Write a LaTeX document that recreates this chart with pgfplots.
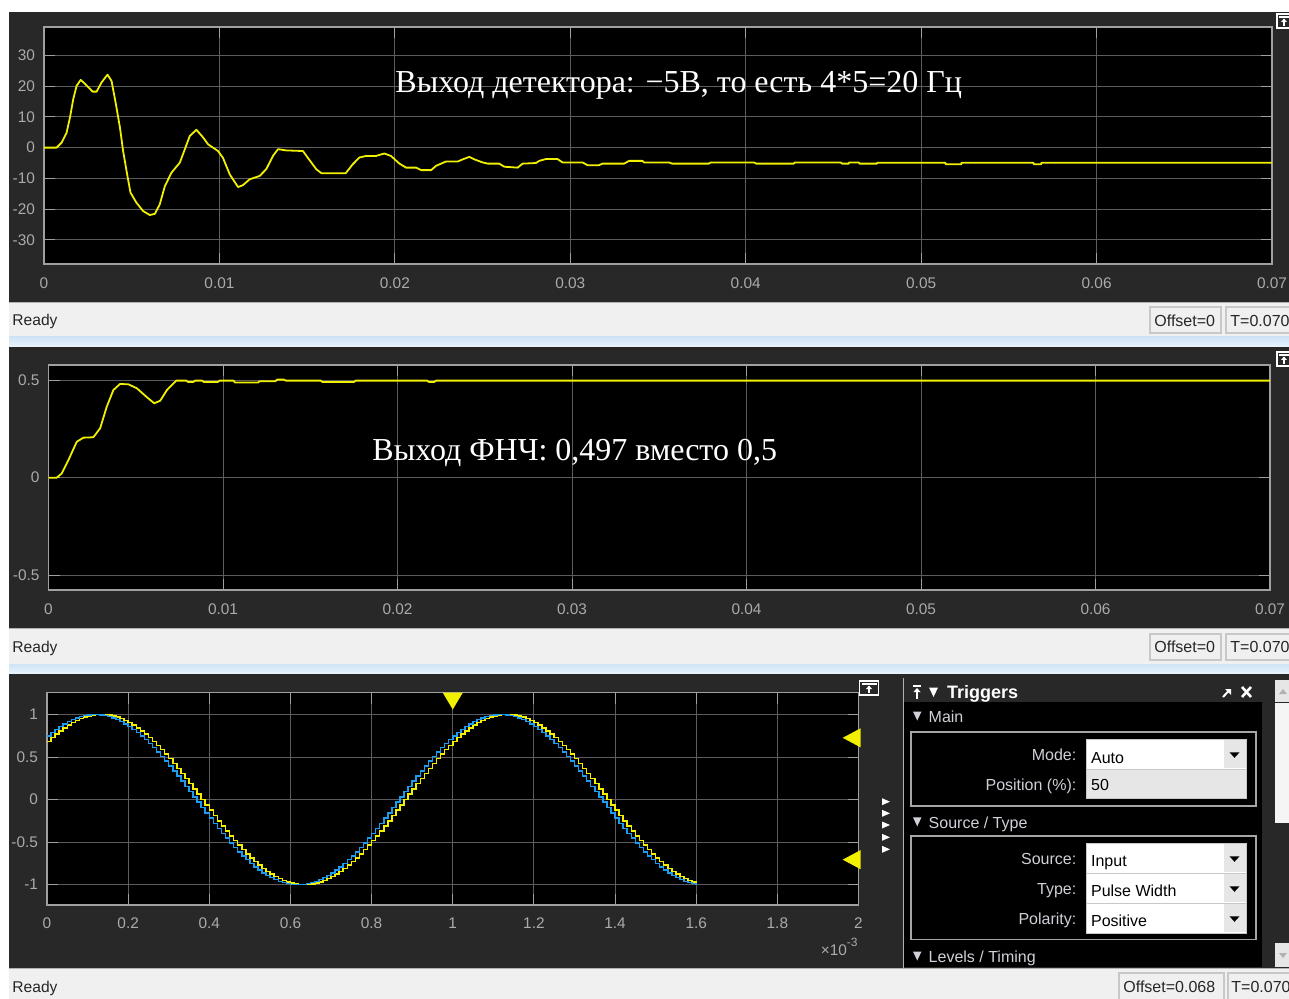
\documentclass[border=0pt]{standalone}
\usepackage{pgfplots}
\pgfplotsset{compat=1.18}
\usepackage{pgfplotstable}
\usepackage{fontspec}
\setmainfont{Liberation Sans}
\newfontfamily\serif{Liberation Serif}
\definecolor{panelbg}{HTML}{282828}
\definecolor{axborder}{HTML}{A0A0A0}
\definecolor{gridc}{HTML}{5C5C5C}
\definecolor{tickc}{HTML}{A0A0A0}
\definecolor{labc}{HTML}{ABABAB}
\definecolor{scopeyel}{HTML}{F0F000}
\definecolor{scopeblue}{HTML}{1E9BEF}
\definecolor{barbg}{HTML}{F0F0F0}
\definecolor{boxborder}{HTML}{C8C8C8}
\definecolor{sepA}{HTML}{CFE4F6}
\definecolor{sepB}{HTML}{EAF4FC}
\definecolor{trigtxt}{HTML}{D0D0D8}
\definecolor{btngray}{HTML}{E6E6E6}

\pgfplotstableread{
x y b
0.00 0.685 0.750
0.01 0.729 0.790
0.02 0.771 0.827
0.03 0.809 0.861
0.04 0.844 0.891
0.05 0.876 0.918
0.06 0.905 0.941
0.07 0.930 0.960
0.08 0.951 0.976
0.09 0.969 0.988
0.10 0.982 0.996
0.11 0.992 1.000
0.12 0.998 1.000
0.13 1.000 0.996
0.14 0.998 0.988
0.15 0.992 0.976
0.16 0.982 0.960
0.17 0.969 0.941
0.18 0.951 0.918
0.19 0.930 0.891
0.20 0.905 0.861
0.21 0.876 0.827
0.22 0.844 0.790
0.23 0.809 0.750
0.24 0.771 0.707
0.25 0.729 0.661
0.26 0.685 0.613
0.27 0.637 0.562
0.28 0.588 0.509
0.29 0.536 0.454
0.30 0.482 0.397
0.31 0.426 0.339
0.32 0.368 0.279
0.33 0.309 0.218
0.34 0.249 0.156
0.35 0.187 0.094
0.36 0.125 0.031
0.37 0.063 -0.031
0.38 0.000 -0.094
0.39 -0.063 -0.156
0.40 -0.125 -0.218
0.41 -0.187 -0.279
0.42 -0.249 -0.339
0.43 -0.309 -0.397
0.44 -0.368 -0.454
0.45 -0.426 -0.509
0.46 -0.482 -0.562
0.47 -0.536 -0.613
0.48 -0.588 -0.661
0.49 -0.637 -0.707
0.50 -0.685 -0.750
0.51 -0.729 -0.790
0.52 -0.771 -0.827
0.53 -0.809 -0.861
0.54 -0.844 -0.891
0.55 -0.876 -0.918
0.56 -0.905 -0.941
0.57 -0.930 -0.960
0.58 -0.951 -0.976
0.59 -0.969 -0.988
0.60 -0.982 -0.996
0.61 -0.992 -1.000
0.62 -0.998 -1.000
0.63 -1.000 -0.996
0.64 -0.998 -0.988
0.65 -0.992 -0.976
0.66 -0.982 -0.960
0.67 -0.969 -0.941
0.68 -0.951 -0.918
0.69 -0.930 -0.891
0.70 -0.905 -0.861
0.71 -0.876 -0.827
0.72 -0.844 -0.790
0.73 -0.809 -0.750
0.74 -0.771 -0.707
0.75 -0.729 -0.661
0.76 -0.685 -0.613
0.77 -0.637 -0.562
0.78 -0.588 -0.509
0.79 -0.536 -0.454
0.80 -0.482 -0.397
0.81 -0.426 -0.339
0.82 -0.368 -0.279
0.83 -0.309 -0.218
0.84 -0.249 -0.156
0.85 -0.187 -0.094
0.86 -0.125 -0.031
0.87 -0.063 0.031
0.88 0.000 0.094
0.89 0.063 0.156
0.90 0.125 0.218
0.91 0.187 0.279
0.92 0.249 0.339
0.93 0.309 0.397
0.94 0.368 0.454
0.95 0.426 0.509
0.96 0.482 0.562
0.97 0.536 0.613
0.98 0.588 0.661
0.99 0.637 0.707
1.00 0.685 0.750
1.01 0.729 0.790
1.02 0.771 0.827
1.03 0.809 0.861
1.04 0.844 0.891
1.05 0.876 0.918
1.06 0.905 0.941
1.07 0.930 0.960
1.08 0.951 0.976
1.09 0.969 0.988
1.10 0.982 0.996
1.11 0.992 1.000
1.12 0.998 1.000
1.13 1.000 0.996
1.14 0.998 0.988
1.15 0.992 0.976
1.16 0.982 0.960
1.17 0.969 0.941
1.18 0.951 0.918
1.19 0.930 0.891
1.20 0.905 0.861
1.21 0.876 0.827
1.22 0.844 0.790
1.23 0.809 0.750
1.24 0.771 0.707
1.25 0.729 0.661
1.26 0.685 0.613
1.27 0.637 0.562
1.28 0.588 0.509
1.29 0.536 0.454
1.30 0.482 0.397
1.31 0.426 0.339
1.32 0.368 0.279
1.33 0.309 0.218
1.34 0.249 0.156
1.35 0.187 0.094
1.36 0.125 0.031
1.37 0.063 -0.031
1.38 0.000 -0.094
1.39 -0.063 -0.156
1.40 -0.125 -0.218
1.41 -0.187 -0.279
1.42 -0.249 -0.339
1.43 -0.309 -0.397
1.44 -0.368 -0.454
1.45 -0.426 -0.509
1.46 -0.482 -0.562
1.47 -0.536 -0.613
1.48 -0.588 -0.661
1.49 -0.637 -0.707
1.50 -0.685 -0.750
1.51 -0.729 -0.790
1.52 -0.771 -0.827
1.53 -0.809 -0.861
1.54 -0.844 -0.891
1.55 -0.876 -0.918
1.56 -0.905 -0.941
1.57 -0.930 -0.960
1.58 -0.951 -0.976
1.59 -0.969 -0.988
1.60 -0.982 -0.996
}\sinedata

\pgfplotsset{
  scopeax/.style={
    scale only axis,
    axis background/.style={fill=black},
    axis line style={draw=axborder, line width=0.6pt},
    grid=major,
    major grid style={draw=gridc, line width=0.5pt},
    tick align=inside,
    major tick length=5.5pt,
    tick style={draw=tickc, line width=0.5pt},
    tick label style={font=\fontsize{7.7}{9}\selectfont, text=labc},
    xticklabel style={anchor=center, yshift=-9.5pt},
    yticklabel style={anchor=east, inner sep=0pt, xshift=-4.3pt},
    scaled ticks=false,
  }
}

\begin{document}
\begin{tikzpicture}
\begin{scope}[x=0.5pt,y=-0.5pt]
\fill[white] (0,0) rectangle (1289,999);
\fill[panelbg] (9,12) rectangle (1289,302);
\fill[barbg] (9,302) rectangle (1289,337);
\shade[top color=sepA, bottom color=sepB] (9,337) rectangle (1289,347);
\fill[panelbg] (9,347) rectangle (1289,628);
\fill[barbg] (9,628) rectangle (1289,664);
\shade[top color=sepA, bottom color=sepB] (9,664) rectangle (1289,674);
\fill[panelbg] (9,674) rectangle (1289,968);
\fill[barbg] (9,968) rectangle (1289,999);
\end{scope}

% ---------- panel 1
\begin{axis}[scopeax, at={(22pt,-13.5pt)}, anchor=north west,
  width=614pt, height=118.5pt,
  xmin=0, xmax=0.07, ymin=-37.8, ymax=39.2,
  xtick={0,0.01,0.02,0.03,0.04,0.05,0.06,0.07},
  xticklabels={0,0.01,0.02,0.03,0.04,0.05,0.06,0.07},
  ytick={-30,-20,-10,0,10,20,30},
  yticklabels={-30,-20,-10,0,10,20,30}]
\addplot[scopeyel, line width=0.9pt, line join=round] coordinates {
(0,0) (0.00072,0) (0.001,1.6) (0.00129,4.9) (0.00148,9.8) (0.00167,15.8) (0.00186,20.1)
(0.00209,22) (0.00233,20.8) (0.00277,18.2) (0.003,18.2) (0.00328,21.2) (0.00362,23.7)
(0.00385,21.7) (0.0041,14.1) (0.00433,6.5) (0.00451,-1.1) (0.00474,-8.7) (0.00493,-14.6)
(0.00527,-17.9) (0.00565,-20.6) (0.00603,-21.9) (0.00632,-21.5) (0.0066,-18.4)
(0.00689,-12.5) (0.00727,-8.1) (0.00774,-4.9) (0.00803,-0.5) (0.00831,3.8) (0.00869,5.8)
(0.00907,3.3) (0.00935,1.1) (0.00992,-1.1) (0.0102,-3.3) (0.01059,-8.7) (0.01106,-12.8)
(0.01134,-12.2) (0.01172,-10.3) (0.01229,-9.2) (0.01267,-7) (0.01305,-2.7) (0.01334,-0.5)
(0.01381,-0.9) (0.01476,-1.1) (0.01504,-3.3) (0.01552,-7) (0.01581,-8.3) (0.0172,-8.3)
(0.0176,-5.4) (0.01798,-3.2) (0.01836,-2.7) (0.01893,-2.7) (0.0194,-1.9)
(0.01978,-2.7) (0.02026,-5.2) (0.02064,-6.5) (0.02121,-6.5) (0.0215,-7.3) (0.02207,-7.3)
(0.02235,-5.9) (0.02292,-4.5) (0.02359,-4.5) (0.02387,-3.8) (0.02425,-3) (0.02453,-3.8)
(0.025,-4.8) (0.0253,-5.2) (0.02595,-5.2) (0.02624,-6.2) (0.027,-6.5) (0.02728,-5.2)
(0.02804,-5) (0.02823,-4.3) (0.02861,-3.7) (0.02927,-3.7) (0.02956,-4.8) (0.0307,-4.8)
(0.03098,-5.7) (0.03164,-5.7) (0.03183,-5.2) (0.03307,-5.2) (0.03335,-4.3) (0.03411,-4.3)
(0.0342,-4.8) (0.03563,-4.8) (0.0358,-5.2) (0.0379,-5.2) (0.038,-4.8) (0.04047,-4.8)
(0.0406,-5.2) (0.04274,-5.2) (0.0428,-4.8) (0.0454,-4.8) (0.0455,-5.2) (0.04587,-5.2)
(0.0459,-4.8) (0.04644,-4.8) (0.0465,-5.2) (0.04748,-5.2) (0.0475,-4.9) (0.05138,-4.9)
(0.0514,-5.4) (0.05229,-5.4) (0.0523,-4.9) (0.0564,-4.9) (0.05642,-5.4) (0.05684,-5.4)
(0.05686,-4.9) (0.07,-4.9)};
\end{axis}

% ---------- panel 2
\begin{axis}[scopeax, at={(24.25pt,-182.5pt)}, anchor=north west,
  width=610.75pt, height=112.5pt,
  xmin=0, xmax=0.07, ymin=-0.575, ymax=0.577,
  xtick={0,0.01,0.02,0.03,0.04,0.05,0.06,0.07},
  xticklabels={0,0.01,0.02,0.03,0.04,0.05,0.06,0.07},
  ytick={-0.5,0,0.5},
  yticklabels={-0.5,0,0.5}]
\addplot[scopeyel, line width=0.9pt, line join=round] coordinates {
(0,0) (0.00047,0) (0.00076,0.022) (0.00114,0.09) (0.00162,0.184) (0.002,0.205)
(0.00257,0.207) (0.00296,0.253) (0.00334,0.364) (0.00372,0.449) (0.0041,0.48)
(0.00458,0.478) (0.00506,0.458) (0.00564,0.412) (0.00606,0.381) (0.0064,0.394)
(0.00679,0.449) (0.00732,0.497) (0.0079,0.497) (0.008,0.49) (0.0083,0.49) (0.0084,0.497)
(0.0088,0.497) (0.0089,0.49) (0.0097,0.49) (0.0098,0.497) (0.0106,0.497) (0.0107,0.487)
(0.012,0.487) (0.0121,0.494) (0.013,0.494) (0.0131,0.502) (0.0135,0.502) (0.0136,0.497)
(0.0156,0.497) (0.0157,0.49) (0.0175,0.49) (0.0176,0.497) (0.0217,0.497) (0.0218,0.49)
(0.0221,0.49) (0.0222,0.497) (0.07,0.497)};
\end{axis}

% ---------- panel 3
\begin{axis}[scopeax, at={(23.5pt,-346.25pt)}, anchor=north west,
  width=405.75pt, height=106.25pt,
  xmin=0, xmax=2, ymin=-1.239, ymax=1.259, clip=false,
  xtick={0,0.2,0.4,0.6,0.8,1,1.2,1.4,1.6,1.8,2},
  xticklabels={0,0.2,0.4,0.6,0.8,1,1.2,1.4,1.6,1.8,2},
  xticklabel style={yshift=0.5pt},
  ytick={-1,-0.5,0,0.5,1},
  yticklabels={-1,-0.5,0,0.5,1}]
\addplot[const plot, scopeyel, line width=0.75pt] table[x=x, y=y] {\sinedata};
\addplot[const plot, scopeblue, line width=0.75pt] table[x=x, y=b] {\sinedata};
\fill[scopeyel] (axis cs:0.975,1.259) -- (axis cs:1.025,1.259) -- (axis cs:1,1.059) -- cycle;
\fill[scopeyel] (axis cs:1.961,0.726) -- (axis cs:2.005,0.838) -- (axis cs:2.005,0.614) -- cycle;
\fill[scopeyel] (axis cs:1.961,-0.706) -- (axis cs:2.005,-0.594) -- (axis cs:2.005,-0.818) -- cycle;
\end{axis}

\begin{scope}[x=0.5pt,y=-0.5pt]
% overlay texts
\node[anchor=base west, inner sep=0, text=white, font=\serif\fontsize{16}{18}\selectfont] at (395,92.7) {Выход детектора: −5В, то есть 4*5=20 Гц};
\node[anchor=base west, inner sep=0, text=white, font=\serif\fontsize{16}{18}\selectfont] at (372,460.7) {Выход ФНЧ: 0,497 вместо 0,5};
% x10^-3
\node[anchor=base east, inner sep=0, text=labc, font=\fontsize{7.7}{9}\selectfont] at (858,955) {×10\raisebox{4.5pt}{\fontsize{6}{7}\selectfont -3}};
% panel icons
\foreach \ix/\iy/\iw in {1277/14/14, 1277/352/14, 859.5/681/19}{
  \draw[white, line width=0.6pt] (\ix,\iy) rectangle ++(\iw,14);
  \draw[white, line width=0.6pt] (\ix+2,\iy+3) -- ++(\iw-4,0);
  \draw[white, line width=0.6pt] (\ix+\iw/2,\iy+12) -- ++(0,-7);
  \fill[white] (\ix+\iw/2-3,\iy+8) -- (\ix+\iw/2+3,\iy+8) -- (\ix+\iw/2,\iy+4.5) -- cycle;
}
% little triangles column
\foreach \ty in {801.7,813.3,825,837.3,849.3}{
  \fill[white] (882,\ty-3.5) -- (890,\ty) -- (882,\ty+3.5) -- cycle;
}
% status bars
\draw[boxborder!70!gray] (9,302.5) -- (1289,302.5);
\draw[boxborder!70!gray] (9,628.5) -- (1289,628.5);
\draw[boxborder!70!gray] (9,968.5) -- (1289,968.5);
\foreach \by in {326, 652, 992.5}{
  \node[anchor=base west, inner sep=0, font=\fontsize{7.8}{9}\selectfont, text=black!85] at (12,\by) {Ready};
}
\foreach \by/\bt in {307.3/326.5, 633.5/652.5}{
  \draw[boxborder, line width=1pt] (1149.5,\by) rectangle (1221,\by+26);
  \draw[boxborder, line width=1pt] (1226,\by) rectangle (1296,\by+26);
  \node[anchor=base west, inner sep=0, font=\fontsize{8}{9}\selectfont, text=black!85] at (1154,\bt) {Offset=0};
  \node[anchor=base west, inner sep=0, font=\fontsize{8}{9}\selectfont, text=black!85] at (1230,\bt) {T=0.070};
}
\draw[boxborder, line width=1pt] (1118.5,973) rectangle (1223.5,1002);
\draw[boxborder, line width=1pt] (1227.5,973) rectangle (1296,1002);
\node[anchor=base west, inner sep=0, font=\fontsize{8}{9}\selectfont, text=black!85] at (1123,992.5) {Offset=0.068};
\node[anchor=base west, inner sep=0, font=\fontsize{8}{9}\selectfont, text=black!85] at (1231,992.5) {T=0.070};

% triggers panel
\draw[gray!60, line width=0.8pt] (903.5,678) -- (903.5,968);
\fill[black] (904,702) rectangle (1262,967);
% header icons
\draw[white, line width=0.8pt] (913,686) -- (921,686);
\draw[white, line width=0.8pt] (917,688.5) -- (917,699);
\fill[white] (913.5,692) -- (920.5,692) -- (917,688) -- cycle;
\fill[white] (929,687.5) -- (938,687.5) -- (933.5,697) -- cycle;
\node[anchor=base west, inner sep=0, text=white, font=\bfseries\fontsize{9}{10}\selectfont] at (946.7,698.5) {Triggers};
\draw[white, line width=1pt] (1223,697) -- (1229.5,690);
\fill[white] (1225,689) -- (1231,689) -- (1231,695) -- cycle;
\draw[white, line width=1.3pt] (1242,687) -- (1251,697) (1242,697) -- (1251,687);
% section headers
\foreach \sy/\st in {722.5/Main, 828.3/{Source / Type}, 962.5/{Levels / Timing}}{
  \fill[trigtxt] (913,\sy-11) -- (921.5,\sy-11) -- (917.25,\sy-2) -- cycle;
  \node[anchor=base west, inner sep=0, text=trigtxt, font=\fontsize{8}{9}\selectfont] at (928.3,\sy) {\st};
}
\draw[gray!70, line width=0.8pt] (911,731.7) rectangle (1255.7,806);
\draw[gray!70, line width=0.8pt] (911,835.7) rectangle (1255.7,939.3);
% dropdowns
\fill[white] (1086.7,739.3) rectangle (1246.7,769.3);
\fill[btngray] (1086.7,769.3) rectangle (1246.7,798.5);
\foreach \dy in {843.3, 873.3, 903.3}{
  \fill[white] (1086.7,\dy) rectangle (1246.7,\dy+30);
}
\foreach \dy in {739.3, 843.3, 873.3, 903.3}{
  \fill[btngray] (1223.5,\dy+1) rectangle (1246,\dy+29);
  \fill[black] (1229.5,\dy+13) -- (1239.5,\dy+13) -- (1234.5,\dy+18.5) -- cycle;
}
\draw[boxborder, line width=0.6pt] (1086.7,739.3) rectangle (1246.7,798.5);
\draw[boxborder, line width=0.6pt] (1086.7,769.3) -- (1246.7,769.3);
\draw[boxborder, line width=0.6pt] (1086.7,843.3) rectangle (1246.7,933.3);
\draw[boxborder, line width=0.6pt] (1086.7,873.3) -- (1246.7,873.3) (1086.7,903.3) -- (1246.7,903.3);
% labels
\foreach \ly/\lt in {760.5/Mode:, 790/{Position (\%):}, 864.5/Source:, 894/Type:, 924.3/Polarity:}{
  \node[anchor=base east, inner sep=0, text=trigtxt, font=\fontsize{8}{9}\selectfont] at (1076.7,\ly) {\lt};
}
\foreach \ly/\lt in {763.5/Auto, 790.5/50, 866.5/Input, 896.5/Pulse Width, 926.8/Positive}{
  \node[anchor=base west, inner sep=0, text=black, font=\fontsize{8}{9}\selectfont] at (1090.7,\ly) {\lt};
}
% scrollbar
\fill[btngray] (1275,680) rectangle (1289,701.7);
\fill[gray!60] (1279,694) -- (1287,694) -- (1283,689) -- cycle;
\fill[white!96!black] (1275,703.3) rectangle (1289,823.3);
\fill[btngray] (1275,943.3) rectangle (1289,966.7);
\fill[gray!60] (1279,953) -- (1287,953) -- (1283,958) -- cycle;
\pgfresetboundingbox
\useasboundingbox (0,0) rectangle (1289,999);
\end{scope}
\end{tikzpicture}
\end{document}
